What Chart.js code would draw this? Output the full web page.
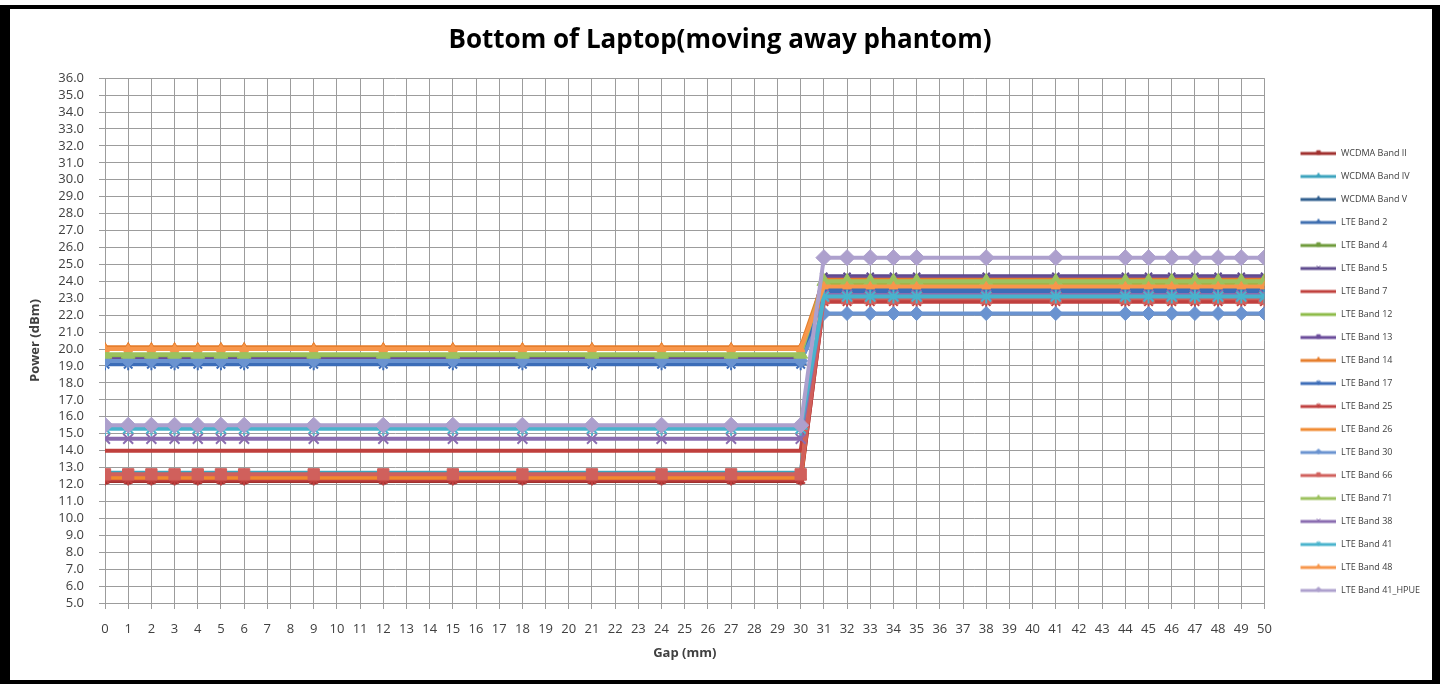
<!DOCTYPE html>
<html>
<head>
<meta charset="utf-8">
<title>Bottom of Laptop(moving away phantom)</title>
<script src="https://cdn.jsdelivr.net/npm/chart.js"></script>
<style>
  html, body { margin: 0; padding: 0; background: #fff; }
  #frame {
    position: absolute; left: 0; top: 5px;
    border-style: solid; border-color: #000;
    border-width: 4px 8px 4px 10px;
    width: 1422px; height: 671px; background: #fff;
  }
  canvas { display: block; }
</style>
</head>
<body>
<div id="frame"><canvas id="power-chart" width="1422" height="671"></canvas></div>
<script>
// gap distances (mm) where power was measured
const gaps = [0, 1, 2, 3, 4, 5, 6, 9, 12, 15, 18, 21, 24, 27, 30,
              31, 32, 33, 34, 35, 38, 41, 44, 45, 46, 47, 48, 49, 50];

const bandNames = [
  'WCDMA Band II', 'WCDMA Band IV', 'WCDMA Band V', 'LTE Band 2', 'LTE Band 4',
  'LTE Band 5', 'LTE Band 7', 'LTE Band 12', 'LTE Band 13', 'LTE Band 14',
  'LTE Band 17', 'LTE Band 25', 'LTE Band 26', 'LTE Band 30', 'LTE Band 66',
  'LTE Band 71', 'LTE Band 38', 'LTE Band 41', 'LTE Band 48', 'LTE Band 41_HPUE'
];

// power (dBm) per band, one value per gap
const wcdmaB2  = [12.2,12.2,12.2,12.2,12.2,12.2,12.2,12.2,12.2,12.2,12.2,12.2,12.2,12.2,12.2, 22.9,22.9,22.9,22.9,22.9,22.9,22.9,22.9,22.9,22.9,22.9,22.9,22.9,22.9];
const wcdmaB4  = [12.7,12.7,12.7,12.7,12.7,12.7,12.7,12.7,12.7,12.7,12.7,12.7,12.7,12.7,12.7, 23.1,23.1,23.1,23.1,23.1,23.1,23.1,23.1,23.1,23.1,23.1,23.1,23.1,23.1];
const wcdmaB5  = [19.3,19.3,19.3,19.3,19.3,19.3,19.3,19.3,19.3,19.3,19.3,19.3,19.3,19.3,19.3, 23.5,23.5,23.5,23.5,23.5,23.5,23.5,23.5,23.5,23.5,23.5,23.5,23.5,23.5];
const lteB2    = [19.2,19.2,19.2,19.2,19.2,19.2,19.2,19.2,19.2,19.2,19.2,19.2,19.2,19.2,19.2, 23.6,23.6,23.6,23.6,23.6,23.6,23.6,23.6,23.6,23.6,23.6,23.6,23.6,23.6];
const lteB4    = [19.6,19.6,19.6,19.6,19.6,19.6,19.6,19.6,19.6,19.6,19.6,19.6,19.6,19.6,19.6, 23.8,23.8,23.8,23.8,23.8,23.8,23.8,23.8,23.8,23.8,23.8,23.8,23.8,23.8];
const lteB5    = [19.4,19.4,19.4,19.4,19.4,19.4,19.4,19.4,19.4,19.4,19.4,19.4,19.4,19.4,19.4, 24.3,24.3,24.3,24.3,24.3,24.3,24.3,24.3,24.3,24.3,24.3,24.3,24.3,24.3];
const lteB7    = [14.0,14.0,14.0,14.0,14.0,14.0,14.0,14.0,14.0,14.0,14.0,14.0,14.0,14.0,14.0, 23.0,23.0,23.0,23.0,23.0,23.0,23.0,23.0,23.0,23.0,23.0,23.0,23.0,23.0];
const lteB12   = [19.5,19.5,19.5,19.5,19.5,19.5,19.5,19.5,19.5,19.5,19.5,19.5,19.5,19.5,19.5, 23.9,23.9,23.9,23.9,23.9,23.9,23.9,23.9,23.9,23.9,23.9,23.9,23.9,23.9];
const lteB13   = [19.4,19.4,19.4,19.4,19.4,19.4,19.4,19.4,19.4,19.4,19.4,19.4,19.4,19.4,19.4, 24.2,24.2,24.2,24.2,24.2,24.2,24.2,24.2,24.2,24.2,24.2,24.2,24.2,24.2];
const lteB14   = [20.1,20.1,20.1,20.1,20.1,20.1,20.1,20.1,20.1,20.1,20.1,20.1,20.1,20.1,20.1, 24.1,24.1,24.1,24.1,24.1,24.1,24.1,24.1,24.1,24.1,24.1,24.1,24.1,24.1];
const lteB17   = [19.1,19.1,19.1,19.1,19.1,19.1,19.1,19.1,19.1,19.1,19.1,19.1,19.1,19.1,19.1, 23.4,23.4,23.4,23.4,23.4,23.4,23.4,23.4,23.4,23.4,23.4,23.4,23.4,23.4];
const lteB25   = [12.3,12.3,12.3,12.3,12.3,12.3,12.3,12.3,12.3,12.3,12.3,12.3,12.3,12.3,12.3, 22.8,22.8,22.8,22.8,22.8,22.8,22.8,22.8,22.8,22.8,22.8,22.8,22.8,22.8];
const lteB26   = [12.4,12.4,12.4,12.4,12.4,12.4,12.4,12.4,12.4,12.4,12.4,12.4,12.4,12.4,12.4, 24.0,24.0,24.0,24.0,24.0,24.0,24.0,24.0,24.0,24.0,24.0,24.0,24.0,24.0];
const lteB30   = [19.3,19.3,19.3,19.3,19.3,19.3,19.3,19.3,19.3,19.3,19.3,19.3,19.3,19.3,19.3, 22.1,22.1,22.1,22.1,22.1,22.1,22.1,22.1,22.1,22.1,22.1,22.1,22.1,22.1];
const lteB66   = [12.6,12.6,12.6,12.6,12.6,12.6,12.6,12.6,12.6,12.6,12.6,12.6,12.6,12.6,12.6, 23.0,23.0,23.0,23.0,23.0,23.0,23.0,23.0,23.0,23.0,23.0,23.0,23.0,23.0];
const lteB71   = [19.7,19.7,19.7,19.7,19.7,19.7,19.7,19.7,19.7,19.7,19.7,19.7,19.7,19.7,19.7, 24.0,24.0,24.0,24.0,24.0,24.0,24.0,24.0,24.0,24.0,24.0,24.0,24.0,24.0];
const lteB38   = [14.7,14.7,14.7,14.7,14.7,14.7,14.7,14.7,14.7,14.7,14.7,14.7,14.7,14.7,14.7, 23.2,23.2,23.2,23.2,23.2,23.2,23.2,23.2,23.2,23.2,23.2,23.2,23.2,23.2];
const lteB41   = [15.3,15.3,15.3,15.3,15.3,15.3,15.3,15.3,15.3,15.3,15.3,15.3,15.3,15.3,15.3, 23.1,23.1,23.1,23.1,23.1,23.1,23.1,23.1,23.1,23.1,23.1,23.1,23.1,23.1];
const lteB48   = [20.0,20.0,20.0,20.0,20.0,20.0,20.0,20.0,20.0,20.0,20.0,20.0,20.0,20.0,20.0, 23.7,23.7,23.7,23.7,23.7,23.7,23.7,23.7,23.7,23.7,23.7,23.7,23.7,23.7];
const lteB41hp = [15.5,15.5,15.5,15.5,15.5,15.5,15.5,15.5,15.5,15.5,15.5,15.5,15.5,15.5,15.5, 25.4,25.4,25.4,25.4,25.4,25.4,25.4,25.4,25.4,25.4,25.4,25.4,25.4,25.4];

const bandValues = [wcdmaB2, wcdmaB4, wcdmaB5, lteB2, lteB4, lteB5, lteB7, lteB12, lteB13, lteB14,
                    lteB17, lteB25, lteB26, lteB30, lteB66, lteB71, lteB38, lteB41, lteB48, lteB41hp];

// styling (not data)
const colors = ['#A0302E', '#3BA3BD', '#2F5E8E', '#3F6FB0', '#6E9A3A',
                '#5E4A8E', '#C0403D', '#8DBB48', '#6A4B9A', '#E67E2C',
                '#3C6DB8', '#C0403F', '#F08A30', '#6A93D0', '#D0605C',
                '#9CC25E', '#8A6CB0', '#49B3CC', '#F7964B', '#ADA0CD'];
const markers = [['rect', 4], ['triangle', 4], ['triangle', 4], ['triangle', 3], ['rect', 3],
                 ['crossRot', 5], ['circle', 0], ['circle', 0], ['rect', 3], ['triangle', 5],
                 ['star', 6], ['star', 6], ['circle', 0], ['rectRot', 7], ['rect', 8],
                 ['triangle', 8], ['crossRot', 7], ['star', 7], ['triangle', 5], ['rectRot', 8]];

// little line + marker sample for the legend
function legendSample(color, style) {
  const c = document.createElement('canvas');
  c.width = 58; c.height = 10;
  const g = c.getContext('2d');
  g.strokeStyle = color; g.lineWidth = 3;
  g.beginPath(); g.moveTo(22, 5); g.lineTo(58, 5); g.stroke();
  if (style[1] > 0 && Chart.helpers && Chart.helpers.drawPoint) {
    g.fillStyle = color; g.strokeStyle = color; g.lineWidth = 1;
    Chart.helpers.drawPoint(g, {pointStyle: style[0], radius: 2.5, borderWidth: 1}, 40, 4);
  }
  return c;
}

const datasets = bandNames.map(function(name, i) {
  const starry = markers[i][0] === 'star' || markers[i][0] === 'crossRot';
  return {
    label: name,
    data: gaps.map(function(g, j) { return {x: g, y: bandValues[i][j]}; }),
    borderColor: colors[i],
    backgroundColor: colors[i],
    borderWidth: 4,
    pointStyle: markers[i][0],
    pointRadius: markers[i][1],
    pointBorderWidth: starry ? 2 : 1,
    pointBackgroundColor: colors[i],
    pointBorderColor: colors[i],
    order: bandNames.length - i,
    legendImg: legendSample(colors[i], markers[i])
  };
});

const ctx = document.getElementById('power-chart').getContext('2d');
const tickFont = {family: 'Open Sans', size: 13};
const gridColor = '#9c9c9c';

const myChart = new Chart(ctx, {
  type: 'line',
  data: { datasets: datasets },
  options: {
    responsive: false,
    animation: false,
    layout: { padding: { left: 0, right: 2, top: 0, bottom: 15 } },
    elements: { line: { tension: 0 } },
    plugins: {
      title: {
        display: true,
        text: 'Bottom of Laptop(moving away phantom)',
        color: '#000',
        font: { family: 'Open Sans', size: 26, weight: 'bold' },
        padding: { top: 16, bottom: 22 }
      },
      legend: {
        position: 'right',
        align: 'center',
        reverse: true,
        // empty title only used to push the item column down a bit
        title: { display: true, text: ' ', font: { size: 10 }, padding: { top: 29, bottom: 29 } },
        labels: {
          usePointStyle: true,
          pointStyleWidth: 58,
          boxHeight: 9,
          padding: 14,
          color: '#404040',
          font: { family: 'Open Sans', size: 9 },
          generateLabels: function(chart) {
            const items = Chart.defaults.plugins.legend.labels.generateLabels(chart);
            items.forEach(function(it) {
              it.pointStyle = chart.data.datasets[it.datasetIndex].legendImg;
            });
            return items;
          }
        }
      },
      tooltip: { enabled: false }
    },
    scales: {
      x: {
        type: 'linear',
        min: 0, max: 50,
        afterFit: function(s) { s.height = 62; },
        ticks: { stepSize: 1, color: '#404040', font: tickFont, padding: 12, maxRotation: 0, autoSkip: false },
        grid: { color: gridColor, tickLength: 6, lineWidth: 1 },
        border: { color: gridColor },
        title: {
          display: true, text: 'Gap (mm)', color: '#404040',
          font: { family: 'Open Sans', size: 13, weight: 'bold' },
          padding: { top: 4, bottom: 4 }
        }
      },
      y: {
        min: 5, max: 36,
        afterFit: function(s) { s.width = 95; },
        ticks: {
          stepSize: 1, color: '#404040', font: tickFont, padding: 15, autoSkip: false,
          callback: function(v) { return v.toFixed(1); }
        },
        grid: { color: gridColor, tickLength: 6, lineWidth: 1 },
        border: { color: gridColor },
        title: {
          display: true, text: 'Power (dBm)', color: '#404040',
          font: { family: 'Open Sans', size: 13, weight: 'bold' },
          padding: { top: 17, bottom: 4 }
        }
      }
    }
  }
});
</script>
</body>
</html>
